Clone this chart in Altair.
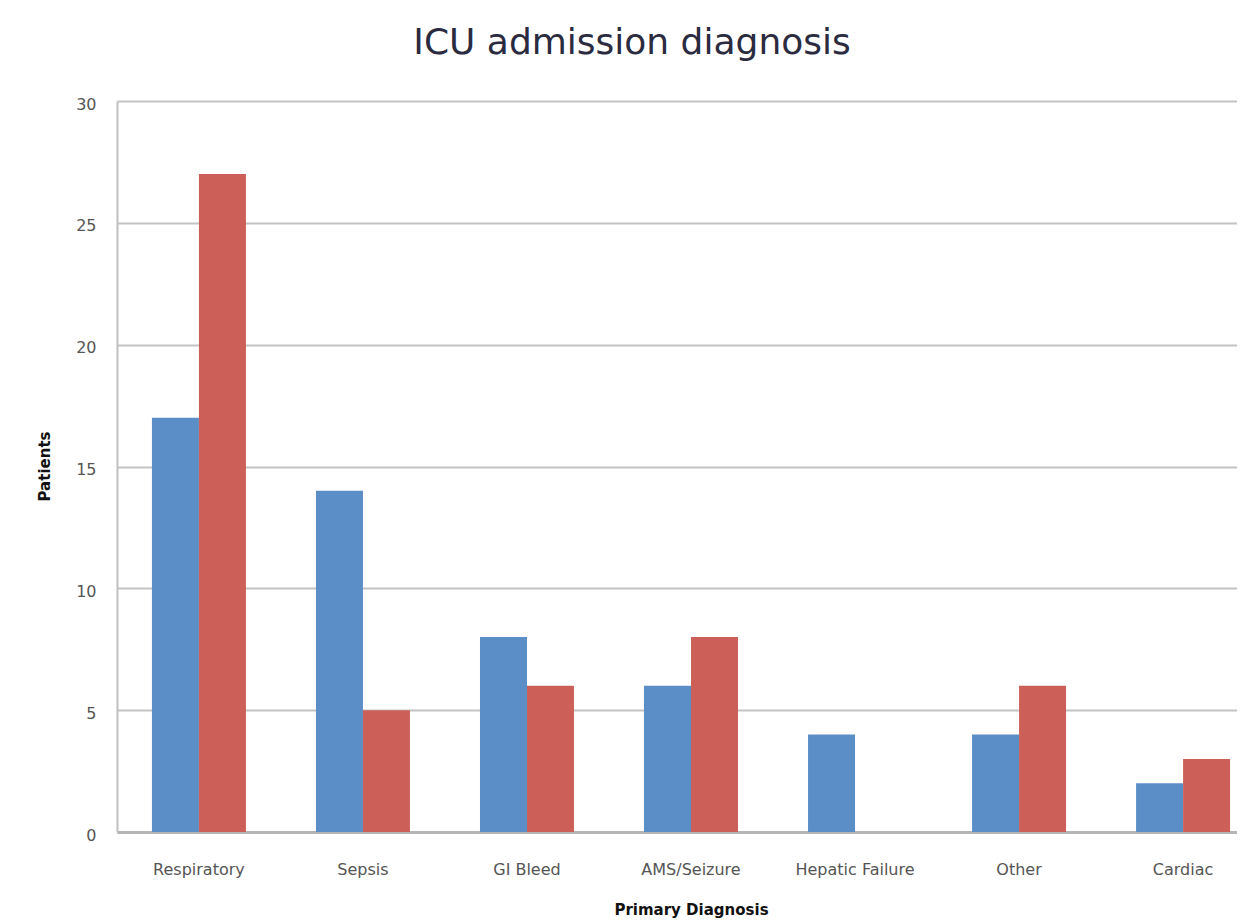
import altair as alt
import pandas as pd

categories = ["Respiratory", "Sepsis", "GI Bleed", "AMS/Seizure", "Hepatic Failure", "Other", "Cardiac"]
series_names = ["Series 1", "Series 2"]
series1 = [17, 14, 8, 6, 4, 4, 2]
series2 = [27, 5, 6, 8, 0, 6, 3]
y_ticks = [0, 5, 10, 15, 20, 25, 30]
colors = ["#5b8ec6", "#cc6058"]

rows = []
for c, a, b in zip(categories, series1, series2):
    rows.append({"Diagnosis": c, "Series": series_names[0], "Patients": a})
    rows.append({"Diagnosis": c, "Series": series_names[1], "Patients": b})
df = pd.DataFrame(rows)

FONT = "DejaVu Sans"

chart = alt.Chart(df).mark_bar().encode(
    x=alt.X("Diagnosis:N", sort=categories,
            scale=alt.Scale(paddingInner=0.427, paddingOuter=0.213),
            axis=alt.Axis(title="Primary Diagnosis", labelAngle=0, labelFont=FONT,
                          labelFontSize=16, labelColor="#555555", labelPadding=29,
                          ticks=False, domainColor="#b5b5b5", domainWidth=3,
                          titleFont=FONT, titleFontSize=15, titleFontWeight="bold",
                          titleColor="#111111", titleY=70)),
    xOffset=alt.XOffset("Series:N", sort=series_names, scale=alt.Scale(paddingInner=0, paddingOuter=0)),
    y=alt.Y("Patients:Q", scale=alt.Scale(domain=[0, 30], nice=False),
            axis=alt.Axis(values=y_ticks, title="Patients", labelFont=FONT,
                          labelFontSize=16, labelColor="#555555", labelPadding=21,
                          labelOffset=3, ticks=False, domainColor="#c0c0c0", domainWidth=2,
                          gridColor="#c3c3c3", gridWidth=2,
                          titleFont=FONT, titleFontSize=15, titleFontWeight="bold",
                          titleColor="#111111", titleX=-65, titleY=365)),
    color=alt.Color("Series:N", sort=series_names,
                    scale=alt.Scale(domain=series_names, range=colors), legend=None),
).properties(
    width=1148,
    height=731,
    autosize=alt.AutoSizeParams(type="none"),
    padding={"left": 109, "top": 93, "right": -28, "bottom": 89},
    title=alt.TitleParams("ICU admission diagnosis", font=FONT, fontSize=36,
                          fontWeight="normal", color="#2b2b40", dx=-59, offset=34),
).configure_view(strokeWidth=0)

chart.save("out.html", embed_options={"renderer": "svg", "actions": False})
